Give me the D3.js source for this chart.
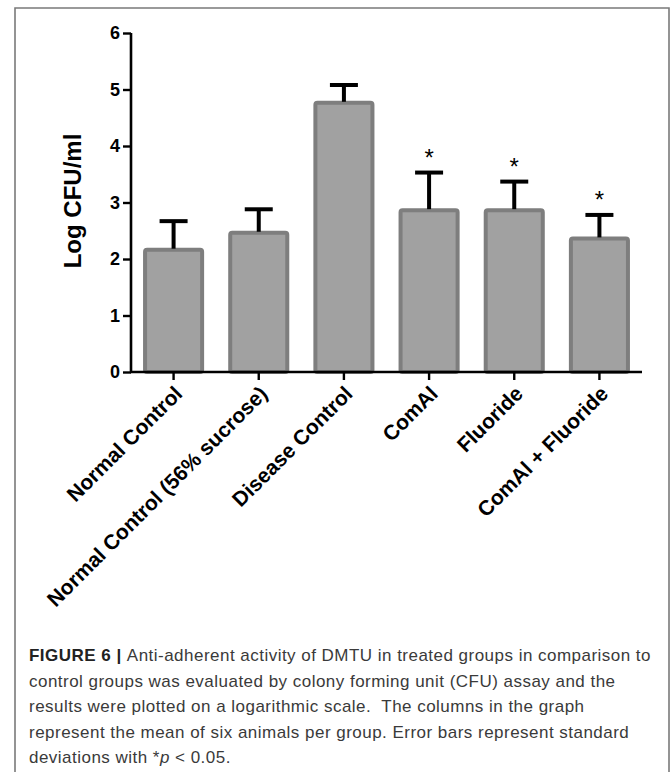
<!DOCTYPE html>
<html>
<head>
<meta charset="utf-8">
<script src="https://cdn.jsdelivr.net/npm/d3@7"></script>
<style>
  html, body { margin: 0; padding: 0; background: #fff; }
  svg { display: block; }
  .cap { white-space: pre; }
</style>
</head>
<body>
<svg id="chart" width="671" height="772"></svg>
<script>
// ---- data ----
const categories = ["Normal Control", "Normal Control (56% sucrose)", "Disease Control", "ComAl", "Fluoride", "ComAl + Fluoride"];
const means = [2.2, 2.5, 4.8, 2.9, 2.9, 2.4];
const sds = [0.47, 0.38, 0.28, 0.63, 0.47, 0.38];
const significant = [false, false, false, true, true, true];
const yTicks = [0, 1, 2, 3, 4, 5, 6];
const yLabel = "Log CFU/ml";
const captionLines = [
  [["FIGURE 6 | ", true], ["Anti-adherent activity of DMTU in treated groups in comparison to", false]],
  [["control groups was evaluated by colony forming unit (CFU) assay and the", false]],
  [["results were plotted on a logarithmic scale.  The columns in the graph", false]],
  [["represent the mean of six animals per group. Error bars represent standard", false]],
  [["deviations with *", false], ["p", "i"], [" < 0.05.", false]]
];

const svg = d3.select("#chart");

// frame
svg.append("path")
  .attr("d", "M15,780 L15,8 L669,8 L669,780")
  .attr("fill", "none").attr("stroke", "#7a7a7a").attr("stroke-width", 1.6);

const x = d3.scaleBand().domain(categories).range([131, 642]).paddingInner(0.33).paddingOuter(0.165);
const y = d3.scaleLinear().domain([0, 6]).range([372, 33]);

const g = svg.append("g");

// bars
const sw = 4;
g.selectAll("rect.bar").data(categories).join("rect")
  .attr("class", "bar")
  .attr("x", d => x(d))
  .attr("width", x.bandwidth())
  .attr("y", (d, i) => y(means[i]) + sw / 2)
  .attr("height", (d, i) => y(0) - y(means[i]) - sw / 2)
  .attr("rx", 2)
  .attr("fill", "#a1a1a1")
  .attr("stroke", "#7e7e7e")
  .attr("stroke-width", sw);

// error bars (upper only)
categories.forEach((c, i) => {
  const cx = x(c) + x.bandwidth() / 2;
  const yTop = y(means[i] + sds[i]);
  g.append("line").attr("x1", cx).attr("x2", cx)
    .attr("y1", y(means[i]) + 1).attr("y2", yTop)
    .attr("stroke", "#000").attr("stroke-width", 4);
  g.append("line").attr("x1", cx - 14).attr("x2", cx + 14)
    .attr("y1", yTop).attr("y2", yTop)
    .attr("stroke", "#000").attr("stroke-width", 4);
  if (significant[i]) {
    g.append("text").attr("x", cx).attr("y", yTop - 7)
      .attr("text-anchor", "middle")
      .attr("font-family", "Liberation Sans, Arial, sans-serif")
      .attr("font-size", 24).attr("fill", "#000")
      .text("*");
  }
});

// y axis
const yAxis = g.append("g").attr("transform", "translate(131,0)")
  .call(d3.axisLeft(y).tickValues(yTicks).tickFormat(d3.format("d")).tickSize(8).tickPadding(3));
yAxis.select(".domain").attr("stroke", "#000").attr("stroke-width", 2.6).attr("d", "M0,33V373");
yAxis.selectAll(".tick line").attr("stroke", "#000").attr("stroke-width", 2.4);
yAxis.selectAll(".tick text")
  .attr("font-family", "Liberation Sans, Arial, sans-serif")
  .attr("font-weight", "bold").attr("font-size", 18).attr("fill", "#000");

// x axis
const xAxis = g.append("g").attr("transform", "translate(0,372)")
  .call(d3.axisBottom(x).tickSize(8).tickPadding(6));
xAxis.select(".domain").attr("stroke", "#000").attr("stroke-width", 2.6).attr("d", "M130,0H642");
xAxis.selectAll(".tick line").attr("stroke", "#000").attr("stroke-width", 2.4);
xAxis.selectAll(".tick text")
  .attr("font-family", "Liberation Sans, Arial, sans-serif")
  .attr("font-weight", "bold").attr("font-size", 21).attr("fill", "#000")
  .attr("text-anchor", "end")
  .attr("dy", null)
  .attr("transform", "translate(10,23) rotate(-45)")
  .attr("x", 0).attr("y", 0);

// y label
svg.append("text")
  .attr("transform", "translate(81,201) rotate(-90)")
  .attr("text-anchor", "middle")
  .attr("font-family", "Liberation Sans, Arial, sans-serif")
  .attr("font-weight", "bold").attr("font-size", 24).attr("fill", "#000")
  .text(yLabel);

// caption
const cap = svg.append("g");
const capTexts = [];
captionLines.forEach((line, li) => {
  const t = cap.append("text").attr("class", "cap")
    .attr("x", 29).attr("y", 661 + li * 25.5)
    .attr("font-family", "Liberation Sans, Arial, sans-serif")
    .attr("font-size", 17).attr("fill", "#3a3a3a");
  line.forEach(([s, b]) => {
    const ts = t.append("tspan").text(s);
    if (b === true) ts.attr("font-weight", "bold").attr("fill", "#222");
    if (b === "i") ts.attr("font-style", "italic");
  });
  capTexts.push(t);
});
// fit first line to the reference width via letter-spacing
const first = capTexts[0].node();
const w0 = first.getComputedTextLength();
const nChars = first.textContent.length;
const ls = (622 - w0) / nChars;
capTexts.forEach(t => t.attr("letter-spacing", ls));
</script>
</body>
</html>
